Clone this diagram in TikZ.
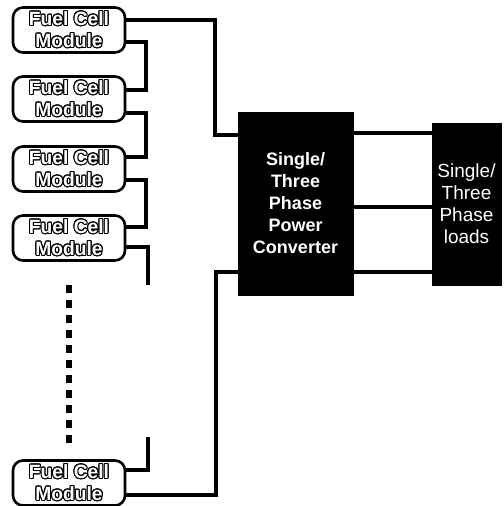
\documentclass[tikz,border=0pt]{standalone}
\usepackage{fontspec}
\usepackage[copies]{contour}
\newfontfamily\labfont{Liberation Sans}
\usetikzlibrary{positioning}
\contourlength{0.5pt}
\tikzset{
  module/.style={
    rounded corners=5pt, draw=black, line width=1.3pt, fill=white,
    minimum width=56pt, minimum height=22.5pt, inner sep=0pt,
    align=center, text=white,
    font=\labfont\bfseries\fontsize{9.6}{11}\selectfont
  },
  block/.style={
    draw=black, fill=black, text=white, inner sep=0pt, align=center,
    font=\labfont\bfseries\fontsize{9}{11}\selectfont
  },
  wire/.style={line width=1.8pt, draw=black},
  gap/.style={line width=2.6pt, draw=black, dash pattern=on 4pt off 3.5pt}
}
\newcommand{\fcm}{\contour{black}{Fuel Cell}\\\contour{black}{Module}}
\begin{document}
\begin{tikzpicture}[x=0.5pt,y=-0.5pt]
    \useasboundingbox (0,0) rectangle (503,506);
    % fuel cell modules
    \node[module] (m1) at (69,30) {\fcm};
    \node[module] (m2) at (69,99) {\fcm};
    \node[module] (m3) at (69,169) {\fcm};
    \node[module] (m4) at (69,238) {\fcm};
    \node[module] (mn) at (69,483) {\fcm};
    % converter and loads
    \node[block,minimum width=57.5pt,minimum height=91.5pt] (conv) at (295.5,203.5)
      {Single/\\Three\\Phase\\Power\\Converter};
    \node[block,minimum width=34.5pt,minimum height=81pt,
      font=\labfont\fontsize{9.5}{11}\selectfont] (load) at (466.5,204)
      {Single/\\Three\\Phase\\loads};
    % open ends of the series string
    \coordinate (cut1) at (148,285);
    \coordinate (cut2) at (148,437);
    % series connection
    \draw[wire] (m1.east) ++(0,12) -| (146,90) -- (146,90 -| m2.east);
    \draw[wire] (m2.east) ++(0,14) -| (146,157) -- (146,157 -| m3.east);
    \draw[wire] (m3.east) ++(0,11) -| (146,227) -- (146,227 -| m4.east);
    \draw[wire] (m4.east) ++(0,9) -| (cut1);
    \draw[wire] (cut2) |- (mn.east |- 0,470);
    \draw[gap] (69,285) -- (69,444);
    % to converter
    \draw[wire] (m1.east) ++(0,-10) -| (215,135) -- (215,135 -| conv.west);
    \draw[wire] (mn.east) ++(0,12) -| (216,272) -- (216,272 -| conv.west);
    % to loads
    \draw[wire] (conv.east |- 0,133) -- (load.west |- 0,133);
    \draw[wire] (conv.east |- 0,207) -- (load.west |- 0,207);
    \draw[wire] (conv.east |- 0,272) -- (load.west |- 0,272);
  \end{tikzpicture}
\end{document}
